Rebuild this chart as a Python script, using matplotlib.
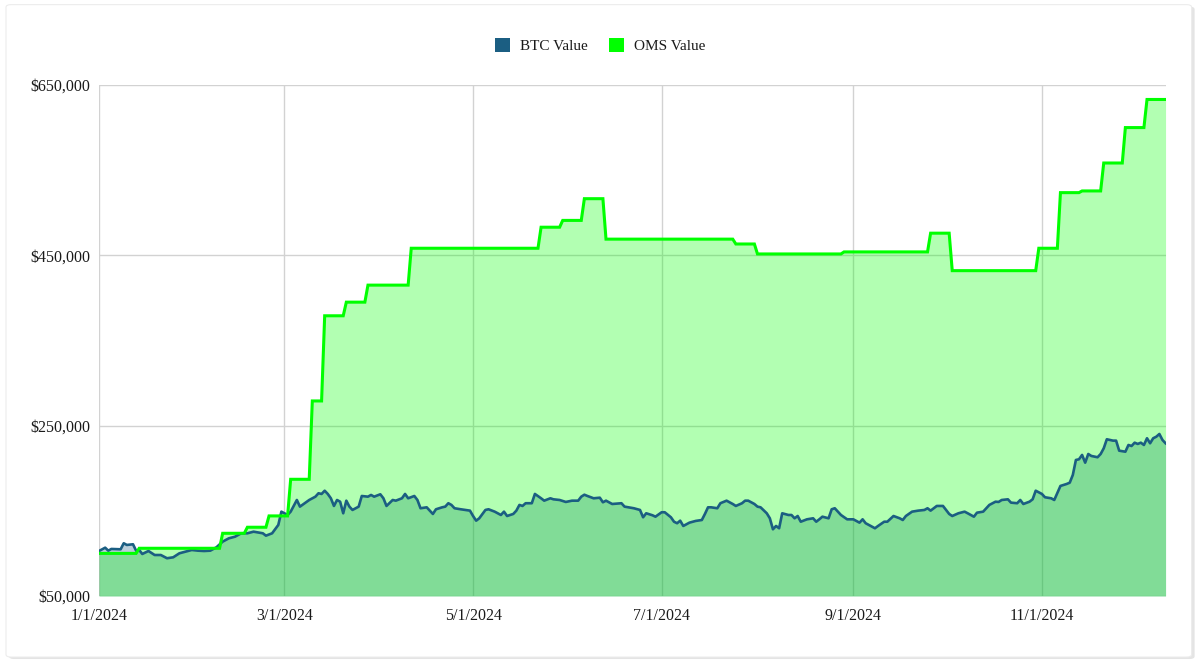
import pandas as pd
import matplotlib
matplotlib.use("Agg")
import matplotlib.pyplot as plt
import matplotlib.dates as mdates
from matplotlib.patches import FancyBboxPatch, Patch
from matplotlib.ticker import FuncFormatter

# days counted from 1/1/2024, values in thousands of dollars
btc_day = [0, 2, 3, 4, 7, 8, 9, 11, 12, 13, 14, 16, 18, 20, 22, 24, 26, 28, 30, 32,
           34, 36, 38, 40, 42, 44, 46, 48, 50, 53, 54, 56, 58, 59, 61, 62, 64, 65, 68, 70,
           71, 72, 73, 74, 75, 76, 77, 78, 79, 80, 81, 82, 84, 85, 87, 88, 89, 91, 92, 93,
           95, 96, 98, 99, 100, 102, 103, 104, 106, 107, 108, 109, 111, 112, 113, 114, 115, 117, 120, 121,
           122, 123, 125, 126, 128, 130, 131, 132, 134, 135, 136, 137, 138, 140, 141, 143, 144, 146, 147, 149,
           151, 153, 155, 156, 157, 158, 160, 162, 163, 164, 166, 169, 170, 173, 175, 176, 177, 179, 180, 182,
           183, 185, 186, 187, 188, 189, 191, 193, 195, 196, 197, 198, 200, 201, 203, 205, 206, 208, 209, 210,
           212, 213, 214, 216, 217, 218, 219, 220, 221, 223, 224, 225, 226, 227, 229, 231, 232, 233, 234, 236,
           237, 238, 240, 242, 244, 246, 247, 248, 250, 251, 252, 254, 255, 257, 259, 260, 261, 263, 265, 267,
           268, 269, 271, 273, 275, 276, 278, 280, 281, 283, 284, 286, 288, 290, 291, 292, 294, 295, 297, 298,
           299, 301, 302, 303, 305, 306, 308, 309, 311, 313, 314, 315, 316, 317, 318, 319, 320, 321, 323, 324,
           325, 326, 328, 329, 330, 332, 333, 334, 335, 336, 337, 338, 339, 340, 341, 342, 343, 344, 345]
btc_value = [102.8, 106.7, 103.2, 105.2, 104.8, 111.9, 109.9, 110.7, 103.2, 104.0, 99.3, 102.8, 98.1, 98.1, 94.3, 95.4, 100.1, 102.0, 104.0, 103.2,
             102.8, 103.2, 107.2, 113.8, 117.7, 119.6, 123.6, 123.6, 125.5, 123.6, 120.8, 123.6, 133.4, 149.0, 145.1, 149.0, 162.7, 154.9, 162.7, 166.6,
             170.6, 169.8, 173.6, 169.8, 164.7, 155.7, 162.7, 160.7, 147.1, 161.9, 154.9, 151.0, 154.9, 167.4, 166.6, 168.6, 166.6, 169.4, 164.7, 155.7,
             162.7, 161.9, 164.7, 169.8, 164.7, 167.4, 162.7, 153.0, 154.1, 150.2, 146.3, 151.8, 154.1, 154.9, 158.9, 156.9, 153.0, 151.8, 150.2, 143.9,
             138.4, 141.2, 151.0, 151.8, 149.0, 145.1, 149.0, 143.9, 146.3, 150.2, 156.9, 155.7, 158.9, 158.9, 169.8, 164.7, 161.9, 164.7, 163.5, 162.7,
             160.4, 161.9, 161.9, 166.6, 168.9, 167.4, 164.7, 165.4, 160.0, 161.9, 158.0, 158.9, 154.9, 153.0, 151.0, 142.4, 147.1, 144.8, 143.1, 148.3,
             148.3, 142.4, 137.2, 135.4, 138.4, 132.2, 136.1, 138.1, 139.2, 146.3, 154.1, 154.1, 153.0, 158.9, 161.9, 158.0, 155.7, 158.9, 161.9, 161.9,
             158.0, 154.9, 154.1, 147.1, 141.2, 128.3, 132.2, 129.5, 147.1, 145.1, 145.1, 141.2, 143.9, 137.2, 140.0, 141.2, 137.2, 140.0, 143.1, 141.2,
             151.8, 153.0, 145.1, 140.0, 140.0, 136.1, 140.0, 135.4, 131.4, 129.5, 132.2, 137.2, 137.2, 143.9, 141.2, 139.2, 143.9, 149.0, 150.2, 151.0,
             153.0, 150.2, 155.7, 155.7, 146.3, 143.9, 147.1, 149.0, 147.1, 143.1, 147.8, 149.0, 156.9, 160.7, 160.4, 162.7, 163.5, 159.6, 158.9, 162.7,
             158.0, 160.7, 163.5, 173.6, 169.8, 165.9, 164.7, 162.7, 179.2, 181.5, 183.0, 192.1, 209.7, 210.5, 215.6, 206.5, 216.7, 214.4, 212.9, 216.7,
             223.4, 234.0, 232.4, 232.4, 220.6, 219.4, 227.3, 226.1, 230.0, 228.5, 230.0, 227.3, 235.2, 229.3, 235.2, 237.0, 240.2, 233.2, 229.3]

# OMS is a step line: corner points of each level
oms_day = [0, 12, 13, 39, 40, 47, 48, 54, 55, 61, 62, 68, 69, 72, 73, 79, 80, 86, 87, 100,
           101, 142, 143, 149, 150, 156, 157, 163, 164, 205, 206, 212, 213, 240, 241, 268, 269, 275, 276, 303,
           304, 310, 311, 317, 318, 324, 325, 331, 332, 338, 339, 345]
oms_value = [100.0, 100.0, 106.0, 106.0, 123.6, 123.6, 130.7, 130.7, 144.0, 144.0, 187.0, 187.0, 279.0, 279.0, 379.0, 379.0, 395.0, 395.0, 415.0, 415.0,
             458.3, 458.3, 483.0, 483.0, 491.0, 491.0, 516.5, 516.5, 469.0, 469.0, 463.3, 463.3, 451.6, 451.6, 454.0, 454.0, 476.0, 476.0, 432.0, 432.0,
             458.3, 458.3, 523.6, 523.6, 525.6, 525.6, 558.4, 558.4, 600.0, 600.0, 633.0, 633.0]

y_ticks = [50000, 250000, 450000, 650000]
series_names = ["BTC Value", "OMS Value"]

btc_color = "#1b5e82"
oms_color = "#00ff00"

base = pd.Timestamp("2024-01-01")
btc_dates = base + pd.to_timedelta(btc_day, unit="D")
oms_dates = base + pd.to_timedelta(oms_day, unit="D")
btc = [v * 1000 for v in btc_value]
oms = [v * 1000 for v in oms_value]

plt.rcParams["font.family"] = ["Liberation Serif", "DejaVu Serif"]

fig = plt.figure(figsize=(12, 6.63), dpi=100)
fig.patch.set_facecolor("#ffffff")

# card with soft shadow
shadow = FancyBboxPatch((0.0075, 0.006), 0.988, 0.984, boxstyle="round,pad=0,rounding_size=0.004",
                        transform=fig.transFigure, facecolor="#e4e4e4", edgecolor="none", zorder=-3)
card = FancyBboxPatch((0.005, 0.009), 0.988, 0.984, boxstyle="round,pad=0,rounding_size=0.004",
                      transform=fig.transFigure, facecolor="#ffffff", edgecolor="#ececec", lw=0.8, zorder=-2)
fig.patches.extend([shadow, card])

ax = fig.add_axes([0.0825, 0.1011, 0.8888, 0.7707])
ax.set_facecolor("none")

ax.fill_between(btc_dates, 50000, btc, color=btc_color, alpha=0.3, linewidth=0, zorder=2)
ax.fill_between(oms_dates, 50000, oms, color=oms_color, alpha=0.3, linewidth=0, zorder=3)
ax.plot(btc_dates, btc, color=btc_color, lw=1.9, zorder=4, solid_joinstyle="round")
ax.plot(oms_dates, oms, color=oms_color, lw=2.2, zorder=5, solid_joinstyle="miter")

ax.set_xlim(btc_dates[0], btc_dates[-1])
ax.set_ylim(50000, 650000)
ax.set_yticks(y_ticks)
ax.yaxis.set_major_formatter(FuncFormatter(lambda v, p: "${:,.0f}".format(v)))
ax.xaxis.set_major_locator(mdates.MonthLocator(bymonth=[1, 3, 5, 7, 9, 11]))
ax.xaxis.set_major_formatter(FuncFormatter(
    lambda v, p: "{d.month}/{d.day}/{d.year}".format(d=mdates.num2date(v))))

ax.set_axisbelow(True)
ax.grid(True, color="#d2d2d2", lw=1.0)
for s in ax.spines.values():
    s.set_visible(False)
ax.tick_params(axis="both", length=0, labelsize=11.5, labelcolor="#1a1a1a")
ax.tick_params(axis="y", pad=6)
ax.tick_params(axis="x", pad=8.5)

handles = [Patch(facecolor=btc_color, edgecolor="none"),
           Patch(facecolor=oms_color, edgecolor="none")]
fig.legend(handles, series_names, loc="center", bbox_to_anchor=(0.5, 0.931), ncol=2,
           frameon=False, fontsize=11, handlelength=1.0, handleheight=1.0,
           handletextpad=0.65, columnspacing=1.4, labelcolor="#1a1a1a")

fig.savefig("out.png", dpi=100)
